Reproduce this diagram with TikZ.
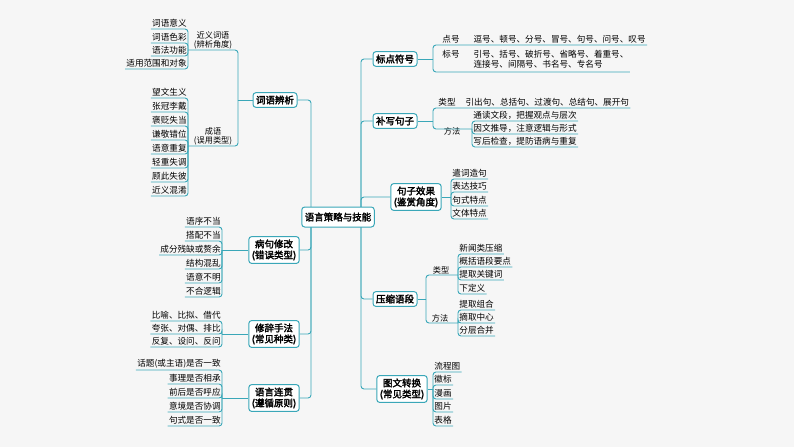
\documentclass[tikz,border=0pt]{standalone}
\usepackage{fontspec}
\setmainfont{Noto Sans CJK SC}[AutoFakeBold=2.5]
\usepackage{tikz}
\usetikzlibrary{positioning}
\definecolor{teal1}{HTML}{3AA7B8}

\begin{document}
\begin{tikzpicture}
      [x=1pt, y=-1pt,
      link/.style={draw=teal1, line width=0.9pt, rounded corners=3pt},
      leaf/.style={inner sep=1.2pt, font=\fontsize{8.6}{9}\selectfont},
      tag/.style={inner sep=1pt, font=\fontsize{8.2}{9}\selectfont, align=center},
      topic/.style={draw=teal1, line width=1pt, rounded corners=3pt, fill=white, align=center,
        inner sep=3pt, font=\fontsize{9.5}{11}\selectfont\bfseries}
      ]
      \fill[gray!7] (0,0) rectangle (794,447);
      \useasboundingbox (0,0) rectangle (794,447);

      % topics on the left
      \node[topic] (ciyu) at (275,100) {词语辨析};
      \node[topic] (bingju) at (274,250) {病句修改\\(错误类型)};
      \node[topic] (xiuci) at (274,334) {修辞手法\\(常见种类)};
      \node[topic] (lianguan) at (274,398) {语言连贯\\(遵循原则)};
      % topics on the right
      \node[topic] (biaodian) at (395,59) {标点符号};
      \node[topic] (buxie) at (395,121) {补写句子};
      \node[topic] (xiaoguo) at (416,197) {句子效果\\(鉴赏角度)};
      \node[topic] (yasuo) at (395,299) {压缩语段};
      \node[topic] (tuwen) at (402,389) {图文转换\\(常见类型)};

      \coordinate (tl) at (311,217);
      \coordinate (tr) at (361,217);
      \foreach \n in {ciyu,bingju,xiuci,lianguan}
        \draw[link] (\n.east) -| (tl);
      \foreach \n in {biaodian,buxie,xiaoguo,yasuo,tuwen}
        \draw[link] (\n.west) -| (tr);

      % 词语辨析
      \coordinate (jjy) at (188,50);
      \coordinate (jcy) at (188,146);
      \coordinate (jcc) at (238,100);
      \foreach \t/\y [count=\i] in {词语意义/29,词语色彩/43,语法功能/56,适用范围和对象/69}{
        \node[leaf, anchor=south east] (jy\i) at (188,\y) {\t};
        \draw[link] (jy\i.south west) -| (jjy);
      }
      \foreach \t/\y [count=\i] in {望文生义/98,张冠李戴/112,褒贬失当/126,谦敬错位/140,
          语意重复/154,轻重失调/168,顾此失彼/182,近义混淆/196}{
        \node[leaf, anchor=south east] (cy\i) at (188,\y) {\t};
        \draw[link] (cy\i.south west) -| (jcy);
      }
      \node[tag, above] (jytag) at (213,50) {近义词语\\(辨析角度)};
      \node[tag, above] (cytag) at (213,146) {成语\\(误用类型)};
      \draw[link] (jjy) -| (jcc);
      \draw[link] (jcy) -| (jcc);
      \draw[link] (jcc) -- (ciyu.west);

      % 病句修改
      \coordinate (jbj) at (222,250);
      \foreach \t/\y [count=\i] in {语序不当/227,搭配不当/241,成分残缺或赘余/255,
          结构混乱/269,语意不明/283,不合逻辑/297}{
        \node[leaf, anchor=south east] (bj\i) at (222,\y) {\t};
        \draw[link] (bj\i.south west) -| (jbj);
      }
      \draw[link] (jbj) -- (bingju.west);

      % 修辞手法
      \coordinate (jxc) at (222,334);
      \foreach \t/\y [count=\i] in {比喻、比拟、借代/321,夸张、对偶、排比/334,反复、设问、反问/347}{
        \node[leaf, anchor=south east] (xc\i) at (222,\y) {\t};
        \draw[link] (xc\i.south west) -| (jxc);
      }
      \draw[link] (jxc) -- (xiuci.west);

      % 语言连贯
      \coordinate (jlg) at (222,398);
      \foreach \t/\y [count=\i] in {话题(或主语)是否一致/370,事理是否相承/384,前后是否呼应/398,
          意境是否协调/412,句式是否一致/426}{
        \node[leaf, anchor=south east] (lg\i) at (222,\y) {\t};
        \draw[link] (lg\i.south west) -| (jlg);
      }
      \draw[link] (jlg) -- (lianguan.west);

      % 标点符号
      \coordinate (jbd) at (433,59);
      \node[leaf, anchor=south west] (dianhao) at (433,45)
        {\hspace{8pt}点号\hspace{14pt}逗号、顿号、分号、冒号、句号、问号、叹号};
      \node[leaf, anchor=south west, align=left] (biaohao) at (433,72)
        {\begin{tabular}{@{\hspace{8pt}}l@{\hspace{14pt}}l@{}}
          标号 & 引号、括号、破折号、省略号、着重号、\\ & 连接号、间隔号、书名号、专名号
        \end{tabular}};
      \draw[link] (dianhao.south east) -| (jbd);
      \draw[link] (biaohao.south east) -| (jbd);
      \draw[link] (jbd) -- (biaodian.east);

      % 补写句子
      \coordinate (jbx) at (433,121);
      \coordinate (jff) at (472,129);
      \node[leaf, anchor=south west] (leixing) at (433,108)
        {\hspace{4pt}类型\hspace{10pt}引出句、总括句、过渡句、总结句、展开句};
      \foreach \t/\y [count=\i] in {通读文段，把握观点与层次/121,因文推导，注意逻辑与形式/134,
          写后检查，提防语病与重复/147}{
        \node[leaf, anchor=south west] (ff\i) at (472,\y) {\t};
        \draw[link] (ff\i.south east) -| (jff);
      }
      \node[tag, above] (fftag) at (452,136) {方法};
      \draw[link] (leixing.south east) -| (jbx);
      \draw[link] (jff) -| (jbx);
      \draw[link] (jbx) -- (buxie.east);

      % 句子效果
      \coordinate (jxg) at (451,197);
      \foreach \t/\y [count=\i] in {遣词造句/179,表达技巧/192,句式特点/206,文体特点/219}{
        \node[leaf, anchor=south west] (xg\i) at (451,\y) {\t};
        \draw[link] (xg\i.south east) -| (jxg);
      }
      \draw[link] (jxg) -- (xiaoguo.east);

      % 压缩语段
      \coordinate (jys) at (426,299);
      \coordinate (jlx) at (458,275);
      \coordinate (jfy) at (458,323);
      \foreach \t/\y [count=\i] in {新闻类压缩/254,概括语段要点/267,提取关键词/280,下定义/294}{
        \node[leaf, anchor=south west] (lx\i) at (458,\y) {\t};
        \draw[link] (lx\i.south east) -| (jlx);
      }
      \foreach \t/\y [count=\i] in {提取组合/310,摘取中心/323,分层合并/336}{
        \node[leaf, anchor=south west] (fy\i) at (458,\y) {\t};
        \draw[link] (fy\i.south east) -| (jfy);
      }
      \node[tag, above] (lxtag) at (441,275) {类型};
      \node[tag, above] (fytag) at (440,323) {方法};
      \draw[link] (jlx) -| (jys);
      \draw[link] (jfy) -| (jys);
      \draw[link] (jys) -- (yasuo.east);

      % 图文转换
      \coordinate (jtw) at (433,389);
      \foreach \t/\y [count=\i] in {流程图/372,徽标/385,漫画/399,图片/412,表格/426}{
        \node[leaf, anchor=south west] (tw\i) at (433,\y) {\t};
        \draw[link] (tw\i.south east) -| (jtw);
      }
      \draw[link] (jtw) -- (tuwen.east);

      \node[topic, minimum height=20pt] (center) at (338,217) {语言策略与技能};
\end{tikzpicture}
\end{document}
